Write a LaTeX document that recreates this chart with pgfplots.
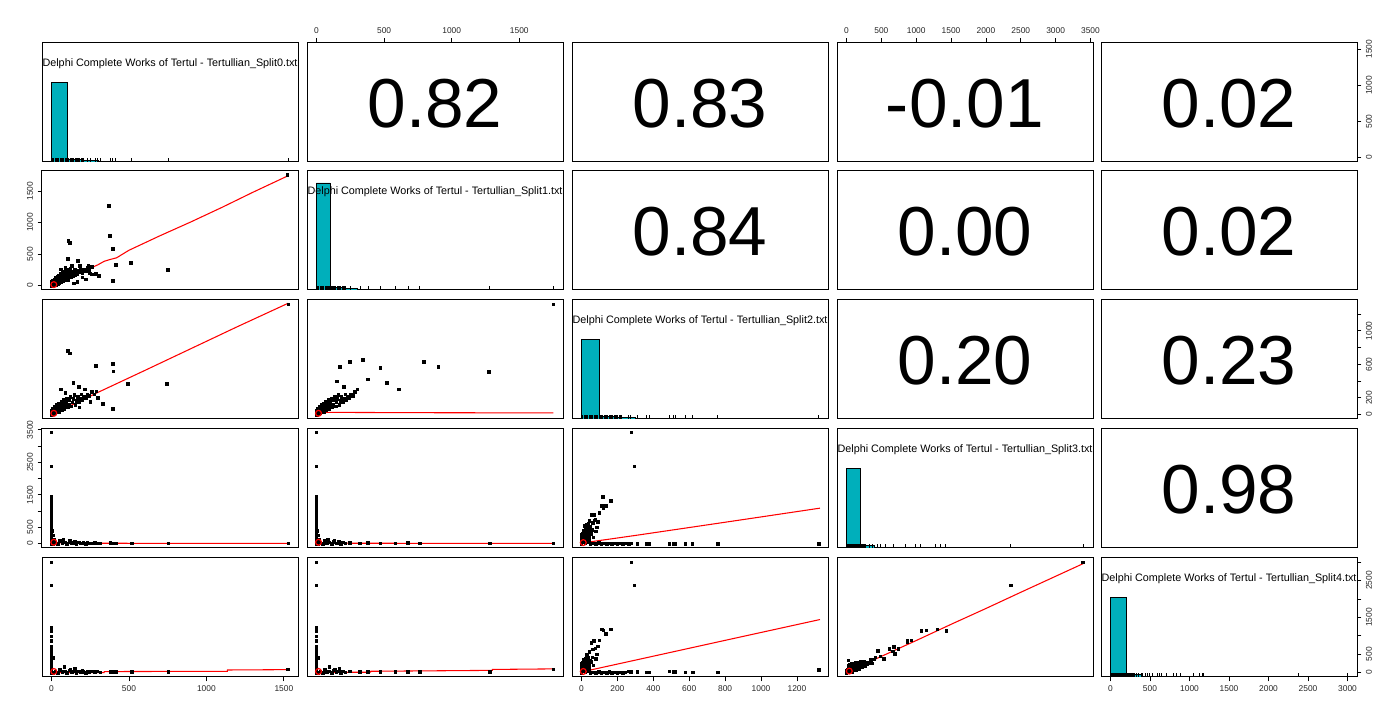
\documentclass[border=0pt]{standalone}
\usepackage{fontspec}
\setmainfont{Liberation Sans}
\usepackage{pgfplots}
\pgfplotsset{compat=1.18}
\definecolor{histc}{RGB}{0,175,187}
\pgfplotsset{
  pp/.style={scale only axis, width=192pt, height=89.5pt, anchor=south west,
    axis line style={line width=0.75pt}, xtick=\empty, ytick=\empty,
    tick align=outside, major tick length=3.3pt, tick style={line width=0.6pt, black},
    tick label style={font=\fontsize{6.3}{7}\selectfont, text=black!85},
    /pgf/number format/assume math mode=true, /pgf/number format/1000 sep={},
    scaled ticks=false},
  sc/.style={only marks, mark=square*, mark size=0.95pt, black},
  lw/.style={red, line width=0.8pt, mark=none},
  mn/.style={red, only marks, mark=o, mark size=2.2pt, line width=0.9pt},
  hb/.style={ybar interval, fill=histc, draw=black, line width=0.6pt},
  rug/.style={ycomb, black, line width=0.75pt, mark=none},
  X0/.style={xmin=-61.2, xmax=1591.2}, Y0/.style={ymin=-61.2, ymax=1591.2},
  X1/.style={xmin=-70.1, xmax=1823.1}, Y1/.style={ymin=-70.1, ymax=1823.1},
  X2/.style={xmin=-52.8, xmax=1372.8}, Y2/.style={ymin=-52.8, ymax=1372.8},
  X3/.style={xmin=-136, xmax=3536},    Y3/.style={ymin=-136, ymax=3536},
  X4/.style={xmin=-120, xmax=3120},    Y4/.style={ymin=-120, ymax=3120},
  YH/.style={ymin=0, ymax=1.5},
  lblL/.style={ytick pos=left, yticklabel pos=left, yticklabel style={rotate=90, anchor=south}},
  lblR/.style={ytick pos=right, yticklabel pos=right, yticklabel style={rotate=90, anchor=north}},
  lblT/.style={xtick pos=right, xticklabel pos=right},
  lblB/.style={xtick pos=left, xticklabel pos=left},
}
\newcommand{\ttl}[1]{\node[font=\fontsize{8.1}{9}\selectfont] at (rel axis cs:0.5,0.825) {Delphi Complete Works of Tertul - Tertullian\_Split#1.txt};}
\newcommand{\cor}[1]{\node[font=\fontsize{52}{60}\selectfont] at (rel axis cs:0.5,0.49) {#1};}

\begin{document}
\begin{tikzpicture}
\useasboundingbox (0,0) rectangle (1050pt,540pt);

% ---------------- row 1 ----------------
\begin{axis}[pp, X0, YH, at={(31.5pt,418.5pt)}]
\addplot[hb] coordinates {(0,1) (100,0.03) (200,0.014) (300,0.008) (400,0.004) (500,0.002) (600,0.002) (700,0.002) (800,0)};
\addplot[rug] coordinates {(0,0.05) (8,0.05) (16,0.05) (24,0.05) (32,0.05) (40,0.05) (48,0.05) (56,0.05) (64,0.05) (72,0.05) (80,0.05) (88,0.05) (96,0.05) (104,0.05) (112,0.05) (120,0.05) (128,0.05) (136,0.05) (144,0.05) (152,0.05) (160,0.05) (168,0.05) (176,0.05) (184,0.05) (192,0.05) (200,0.05) (208,0.05)
 (231,0.05) (253,0.05) (281,0.05) (296,0.05) (314,0.05) (378,0.05) (392,0.05) (414,0.05) (517,0.05) (754,0.05) (1528,0.05)};
\ttl{0}
\end{axis}
\begin{axis}[pp, X1, Y0, at={(230.25pt,418.5pt)}, lblT, xtick={0,500,1000,1500}, xticklabels={0,500,1000,1500}]
\cor{0.82}
\end{axis}
\begin{axis}[pp, X2, Y0, at={(429pt,418.5pt)}]
\cor{0.83}
\end{axis}
\begin{axis}[pp, X3, Y0, at={(627.75pt,418.5pt)}, lblT, xtick={0,500,...,3500}, xticklabels={0,500,1000,1500,2000,2500,3000,3500}]
\cor{-0.01}
\end{axis}
\begin{axis}[pp, X4, Y0, at={(825.75pt,418.5pt)}, lblR, ytick={0,500,1000,1500}, yticklabels={0,500,1000,1500}]
\cor{0.02}
\end{axis}

% ---------------- row 2 ----------------
\begin{axis}[pp, X0, Y1, at={(31.5pt,322.5pt)}, lblL, ytick={0,500,1000,1500}, yticklabels={0,500,1000,1500}]
\addplot[sc] coordinates {(0,0) (0,30) (0,60) (5,10) (8,45) (10,80) (12,20) (15,55) (18,100) (20,5) (22,35) (25,70) (28,120) (30,15) (32,50) (35,90) (38,140) (40,25) (42,65) (45,110) (48,160) (50,40) (53,80) (56,130) (60,190) (62,55) (65,100) (68,150) (72,210) (75,70) (78,120) (82,170) (86,230) (90,90) (94,140) (98,190) (102,250) (106,110) (110,160) (115,210) (120,270) (125,130) (130,180) (135,230) (140,150) (145,200) (150,250) (155,170) (160,220) (165,190) (170,240) (178,210) (185,260) (192,230) (200,200) (210,250) (220,230) (230,280) (245,250) (260,300)
 (184,311) (190,248) (237,316) (248,195) (287,184) (304,152) (166,62) (145,40) (108,89) (108,708) (117,681) (104,422) (169,390) (90,280) (60,260) (130,310) (200,130) (220,100) (260,180)
 (371,1268) (375,792) (397,581) (416,332) (511,363) (750,248) (397,78) (1521,1755)};
\addplot[lw] coordinates {(0,0) (60,62) (120,130) (180,195) (240,262) (300,330) (340,385) (380,415) (420,440) (500,560) (700,790) (900,1010) (1100,1240) (1300,1480) (1521,1735)};
\addplot[mn] coordinates {(15,15)};
\end{axis}
\begin{axis}[pp, X1, YH, at={(230.25pt,322.5pt)}]
\addplot[hb] coordinates {(0,1.345) (100,0.03) (200,0.014) (300,0.008) (400,0.004) (500,0.002) (600,0.002) (700,0.002) (800,0)};
\addplot[rug] coordinates {(0,0.05) (9,0.05) (18,0.05) (27,0.05) (36,0.05) (45,0.05) (54,0.05) (63,0.05) (72,0.05) (81,0.05) (90,0.05) (99,0.05) (108,0.05) (117,0.05) (126,0.05) (135,0.05) (144,0.05) (153,0.05) (162,0.05) (171,0.05) (180,0.05) (189,0.05) (198,0.05) (207,0.05) (216,0.05)
 (248,0.05) (322,0.05) (381,0.05) (470,0.05) (581,0.05) (677,0.05) (765,0.05) (1283,0.05) (1752,0.05)};
\ttl{1}
\end{axis}
\begin{axis}[pp, X2, Y1, at={(429pt,322.5pt)}]
\cor{0.84}
\end{axis}
\begin{axis}[pp, X3, Y1, at={(627.75pt,322.5pt)}]
\cor{0.00}
\end{axis}
\begin{axis}[pp, X4, Y1, at={(825.75pt,322.5pt)}]
\cor{0.02}
\end{axis}

% ---------------- row 3 ----------------
\begin{axis}[pp, X0, Y2, at={(31.5pt,225.75pt)}]
\addplot[sc] coordinates {(0,0) (0,25) (0,50) (4,12) (8,40) (10,70) (12,5) (15,30) (18,60) (20,95) (24,15) (27,45) (30,80) (33,115) (36,25) (40,60) (43,95) (46,135) (50,35) (54,75) (58,115) (62,155) (66,50) (70,90) (74,130) (78,175) (83,65) (88,105) (93,150) (98,195) (104,85) (110,125) (116,170) (122,215) (128,100) (134,145) (140,190) (147,235) (154,120) (161,165) (168,210) (176,150) (184,195) (192,240) (200,175) (210,220) (220,200) (232,245) (245,225) (260,270) (275,240) (290,280)
 (106,760) (117,735) (287,580) (397,605) (400,520) (494,365) (745,365) (397,67) (140,380) (175,330) (215,300) (60,300) (90,260) (250,150) (300,200) (330,130) (180,90) (1528,1320)};
\addplot[lw] coordinates {(0,0) (150,130) (300,265) (450,395) (600,525) (800,700) (1000,875) (1200,1050) (1528,1330)};
\addplot[mn] coordinates {(15,15)};
\end{axis}
\begin{axis}[pp, X1, Y2, at={(230.25pt,225.75pt)}]
\addplot[sc] coordinates {(0,0) (0,25) (0,50) (5,12) (9,40) (11,70) (14,5) (17,30) (20,60) (22,95) (26,15) (30,45) (33,80) (36,115) (40,25) (44,60) (47,95) (50,135) (55,35) (60,75) (64,115) (68,155) (72,50) (77,90) (82,130) (86,175) (92,65) (97,105) (102,150) (108,195) (115,85) (121,125) (128,170) (134,215) (141,100) (148,145) (154,190) (162,235) (170,120) (178,165) (185,210) (194,150) (203,195) (212,240) (220,175) (232,220) (242,200) (255,245) (270,225) (285,270)
 (174,570) (248,630) (344,654) (470,558) (795,630) (899,570) (1276,510) (150,400) (200,330) (300,300) (380,420) (520,380) (610,300) (1750,1320)};
\addplot[lw] coordinates {(0,28) (300,25) (900,22) (1752,20)};
\addplot[mn] coordinates {(15,15)};
\end{axis}
\begin{axis}[pp, X2, YH, at={(429pt,225.75pt)}]
\addplot[hb] coordinates {(0,1) (100,0.03) (200,0.014) (300,0.008) (400,0.004) (500,0.003) (600,0.002) (700,0.002) (800,0)};
\addplot[rug] coordinates {(0,0.05) (7,0.05) (14,0.05) (21,0.05) (28,0.05) (35,0.05) (42,0.05) (49,0.05) (56,0.05) (63,0.05) (70,0.05) (77,0.05) (84,0.05) (91,0.05) (98,0.05) (105,0.05) (112,0.05) (119,0.05) (126,0.05) (133,0.05) (140,0.05) (147,0.05) (154,0.05) (161,0.05) (168,0.05) (175,0.05) (182,0.05) (189,0.05) (196,0.05) (203,0.05) (210,0.05) (217,0.05) (224,0.05)
 (262,0.05) (275,0.05) (310,0.05) (361,0.05) (378,0.05) (490,0.05) (514,0.05) (522,0.05) (579,0.05) (619,0.05) (758,0.05) (1320,0.05)};
\ttl{2}
\end{axis}
\begin{axis}[pp, X3, Y2, at={(627.75pt,225.75pt)}]
\cor{0.20}
\end{axis}
\begin{axis}[pp, X4, Y2, at={(825.75pt,225.75pt)}, lblR, ytick={0,200,...,1200}, yticklabels={0,200,,600,,1000,}]
\cor{0.23}
\end{axis}

% ---------------- row 4 ----------------
\begin{axis}[pp, X0, Y3, at={(31.5pt,129pt)}, lblL, ytick={0,500,...,3500}, yticklabels={0,500,,1500,,2500,,3500}]
\addplot[sc] coordinates {(0,0) (0,80) (0,160) (0,240) (0,320) (0,400) (0,480) (0,560) (0,640) (0,720) (0,800) (0,880) (0,960) (0,1040) (0,1120) (0,1200) (0,1280) (0,1360) (0,1440) (0,2373) (0,3423) (5,400) (10,250) (15,120)
 (10,0) (25,40) (40,0) (55,80) (70,20) (85,40) (100,0) (115,60) (130,10) (145,30) (160,0) (175,40) (190,10) (205,20) (220,0) (76,111) (117,80) (150,60)
 (231,20) (253,10) (281,30) (296,15) (314,10) (378,20) (392,10) (414,15) (517,10) (754,10) (1528,10)};
\addplot[lw] coordinates {(0,30) (200,10) (1528,5)};
\addplot[mn] coordinates {(15,40)};
\end{axis}
\begin{axis}[pp, X1, Y3, at={(230.25pt,129pt)}]
\addplot[sc] coordinates {(0,0) (0,80) (0,160) (0,240) (0,320) (0,400) (0,480) (0,560) (0,640) (0,720) (0,800) (0,880) (0,960) (0,1040) (0,1120) (0,1200) (0,1280) (0,1360) (0,1440) (0,2373) (0,3423) (6,400) (11,250) (17,120)
 (12,0) (28,40) (45,0) (62,80) (78,20) (95,40) (112,0) (128,60) (145,10) (162,30) (178,0) (195,40) (212,10) (85,111) (130,80) (165,60)
 (248,20) (322,10) (381,30) (470,15) (581,10) (677,20) (765,10) (1283,10) (1752,10)};
\addplot[lw] coordinates {(0,25) (250,10) (1752,5)};
\addplot[mn] coordinates {(15,40)};
\end{axis}
\begin{axis}[pp, X2, Y3, at={(429pt,129pt)}]
\addplot[sc] coordinates {(0,0) (0,90) (0,180) (0,270) (5,40) (5,140) (8,230) (8,320) (10,400) (12,60) (14,160) (16,260) (18,360) (20,450) (20,20) (22,110) (24,210) (26,310) (28,410) (30,50) (32,150) (34,250) (36,350) (38,480) (40,90) (42,200) (44,300) (46,400) (18,540) (26,543) (30,600) (39,626) (44,700) (48,522) (63,645) (74,710) (76,750) (91,676) (54,883) (69,883) (98,954) (113,1160) (121,1108) (136,1170) (119,1447) (164,1324) (277,3423) (294,2373) (55,300) (60,420) (65,200) (80,380) (85,500)
 (50,0) (65,10) (80,0) (95,20) (110,0) (125,10) (140,0) (155,15) (170,0) (185,10) (200,0) (215,5) (230,0) (245,10) (262,0) (275,10) (311,0) (361,0) (378,0) (490,0) (514,0) (521,0) (579,0) (618,0) (758,0) (1321,0)};
\addplot[lw] coordinates {(0,15) (300,250) (700,575) (1000,820) (1328,1090)};
\addplot[mn] coordinates {(10,30)};
\end{axis}
\begin{axis}[pp, X3, YH, at={(627.75pt,129pt)}]
\addplot[hb] coordinates {(0,1) (200,0.03) (400,0.012) (600,0.006) (800,0.004) (1000,0.003) (1200,0.002) (1400,0.002) (1600,0)};
\addplot[rug] coordinates {(0,0.05) (14,0.05) (28,0.05) (42,0.05) (56,0.05) (70,0.05) (84,0.05) (98,0.05) (112,0.05) (126,0.05) (140,0.05) (154,0.05) (168,0.05) (182,0.05) (196,0.05) (210,0.05) (224,0.05) (238,0.05) (252,0.05) (266,0.05)
 (326,0.05) (369,0.05) (441,0.05) (484,0.05) (556,0.05) (671,0.05) (844,0.05) (988,0.05) (1061,0.05) (1277,0.05) (1349,0.05) (1421,0.05) (2357,0.05) (3395,0.05)};
\ttl{3}
\end{axis}
\begin{axis}[pp, X4, Y3, at={(825.75pt,129pt)}]
\cor{0.98}
\end{axis}

% ---------------- row 5 ----------------
\begin{axis}[pp, X0, Y4, at={(31.5pt,32.25pt)}, lblB, xtick={0,500,1000,1500}, xticklabels={0,500,1000,1500}]
\addplot[sc] coordinates {(0,0) (0,70) (0,140) (0,210) (0,280) (0,350) (0,420) (0,490) (0,560) (0,630) (0,700) (0,860) (0,990) (0,1130) (0,1170) (0,1210) (0,2376) (0,2997) (12,403)
 (10,0) (25,40) (40,0) (55,80) (70,20) (85,40) (100,0) (115,60) (130,10) (145,30) (160,0) (175,40) (190,10) (205,20) (220,0) (240,10) (83,160) (120,90) (150,100) (200,60)
 (231,30) (253,40) (281,20) (296,30) (314,10) (378,20) (392,25) (414,15) (517,20) (754,20) (1524,89)};
\addplot[lw] coordinates {(0,0) (340,0) (341,27) (1135,35) (1136,70) (1530,80)};
\addplot[mn] coordinates {(15,30)};
\end{axis}
\begin{axis}[pp, X1, Y4, at={(230.25pt,32.25pt)}]
\addplot[sc] coordinates {(0,0) (0,70) (0,140) (0,210) (0,280) (0,350) (0,420) (0,490) (0,560) (0,630) (0,700) (0,860) (0,990) (0,1130) (0,1170) (0,1210) (0,2376) (0,2997) (14,403)
 (12,0) (28,40) (45,0) (62,80) (78,20) (95,40) (112,0) (128,60) (145,10) (162,30) (178,0) (195,40) (212,10) (95,160) (135,90) (170,100)
 (248,30) (322,20) (381,25) (470,15) (581,20) (677,20) (765,15) (1283,20) (1752,89)};
\addplot[lw] coordinates {(0,5) (400,10) (401,35) (1300,60) (1301,85) (1752,100)};
\addplot[mn] coordinates {(15,30)};
\end{axis}
\begin{axis}[pp, X2, Y4, at={(429pt,32.25pt)}, lblB, xtick={0,200,...,1200}, xticklabels={0,200,400,600,800,1000,1200}]
\addplot[sc] coordinates {(0,0) (0,80) (0,160) (0,240) (5,40) (5,120) (8,200) (8,280) (10,360) (12,60) (14,140) (16,220) (18,300) (20,380) (20,20) (22,100) (24,180) (26,260) (28,340) (30,50) (32,130) (34,210) (36,290) (38,420) (40,90) (42,170) (44,250) (46,330) (30,480) (44,565) (63,638) (76,657) (54,808) (69,862) (98,881) (91,720) (136,1052) (113,1170) (121,1143) (164,1178) (277,2997) (294,2376) (55,300) (60,420) (65,200) (80,380) (85,500)
 (50,0) (65,10) (80,0) (95,20) (110,0) (125,10) (140,0) (155,15) (170,0) (185,10) (200,0) (215,5) (230,0) (245,10) (262,30) (275,20) (310,15) (361,10) (378,10) (490,30) (514,20) (522,20) (579,10) (619,10) (758,10) (1320,78)};
\addplot[lw] coordinates {(0,16) (400,445) (800,875) (1328,1440)};
\addplot[mn] coordinates {(10,30)};
\end{axis}
\begin{axis}[pp, X3, Y4, at={(627.75pt,32.25pt)}]
\addplot[sc] coordinates {(0,0) (0,50) (20,10) (20,80) (40,30) (40,110) (60,50) (60,130) (80,20) (80,90) (100,60) (100,140) (120,90) (120,170) (140,70) (140,150) (160,110) (160,200) (180,140) (180,90) (200,170) (200,230) (220,150) (220,200) (240,190) (240,250) (260,220) (270,170) (280,260) (300,240) (320,280) (340,250) (350,300) (30,190) (50,220) (70,240) (90,200) (110,250) (130,260) (150,280) (250,300) (200,290) (27,340)
 (340,359) (364,251) (388,359) (412,413) (451,592) (484,449) (537,376) (614,646) (667,576) (676,700) (696,511) (743,646) (869,817) (869,862) (931,881) (1071,1133) (1147,1151) (1301,1178) (1431,1133) (2353,2376) (3390,2989)};
\addplot[lw] coordinates {(0,0) (500,440) (1000,870) (1500,1310) (2000,1740) (2500,2180) (3390,2954)};
\addplot[mn] coordinates {(40,40)};
\end{axis}
\begin{axis}[pp, X4, YH, at={(825.75pt,32.25pt)}, lblB, xtick={0,500,...,3000}, xticklabels={0,500,1000,1500,2000,2500,3000}]
\addplot[hb] coordinates {(0,1) (200,0.03) (400,0.012) (600,0.006) (800,0.004) (1000,0.003) (1200,0)};
\addplot[rug] coordinates {(0,0.05) (12,0.05) (24,0.05) (36,0.05) (48,0.05) (60,0.05) (72,0.05) (84,0.05) (96,0.05) (108,0.05) (120,0.05) (132,0.05) (144,0.05) (156,0.05) (168,0.05) (180,0.05) (192,0.05) (204,0.05) (216,0.05) (228,0.05) (240,0.05) (252,0.05) (264,0.05) (276,0.05) (288,0.05) (300,0.05)
 (334,0.05) (360,0.05) (390,0.05) (411,0.05) (441,0.05) (466,0.05) (496,0.05) (530,0.05) (589,0.05) (623,0.05) (644,0.05) (708,0.05) (792,0.05) (835,0.05) (886,0.05) (1046,0.05) (1131,0.05) (1165,0.05) (1182,0.05) (2380,0.05) (2995,0.05)};
\ttl{4}
\end{axis}
\begin{axis}[pp, X4, Y4, at={(825.75pt,32.25pt)}, lblR, ytick={0,500,...,3000}, yticklabels={0,500,,1500,,2500,}, axis line style={draw=none}]
\end{axis}
\end{tikzpicture}
\end{document}
